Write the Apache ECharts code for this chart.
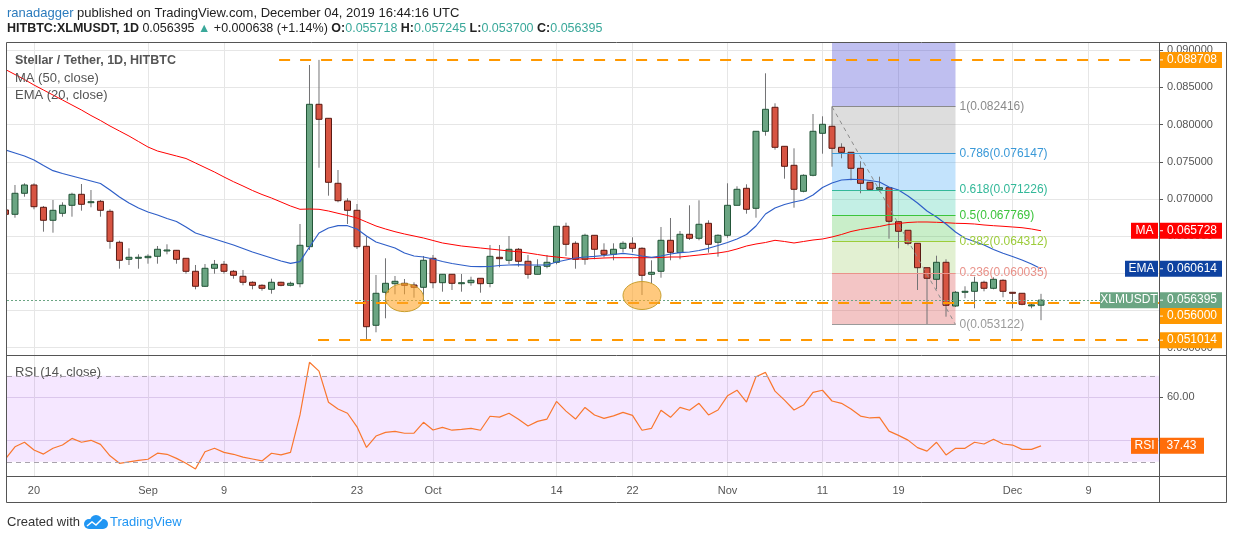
<!DOCTYPE html>
<html>
<head>
<meta charset="utf-8">
<title>XLMUSDT 1D</title>
<script src="https://cdn.jsdelivr.net/npm/echarts@6/dist/echarts.min.js"></script>
<style>
  html, body { margin: 0; padding: 0; background: #fff; }
  #chart { width: 1234px; height: 540px; }
</style>
</head>
<body>
<div id="chart"></div>
<script>
// x value = day index, day 0 = 2019-08-17
const opens = [
  0.068521, 0.067942, 0.070767, 0.071883, 0.068884, 0.067136, 0.068077, 0.069153, 0.070632, 0.069570,
  0.069691, 0.068346, 0.064177, 0.061891, 0.062119, 0.062106, 0.062294, 0.063101, 0.063101, 0.062025,
  0.060277, 0.058260, 0.060681, 0.061218, 0.060277, 0.059605, 0.058798, 0.058394, 0.057856, 0.058798,
  0.058394, 0.058610, 0.063585, 0.082735, 0.080853, 0.072111, 0.069731, 0.068480, 0.063639, 0.053015,
  0.057453, 0.058610, 0.058663, 0.058435, 0.058125, 0.062025, 0.058744, 0.059874, 0.058704, 0.058744,
  0.059336, 0.058636, 0.062160, 0.061756, 0.063236, 0.061622, 0.059874, 0.060949, 0.061487, 0.066329,
  0.064042, 0.061891, 0.065118, 0.063101, 0.062563, 0.063370, 0.064042, 0.063370, 0.059874, 0.060277,
  0.064446, 0.062805, 0.065253, 0.064715, 0.066732, 0.064177, 0.065118, 0.069153, 0.071439, 0.068749,
  0.079104, 0.082332, 0.077087, 0.074532, 0.071035, 0.073187, 0.078835, 0.079777, 0.076953, 0.076280,
  0.074129, 0.072246, 0.071304, 0.071520, 0.066947, 0.065791, 0.064042, 0.060761, 0.059201, 0.061487,
  0.055611, 0.057453, 0.057587, 0.058798, 0.057991, 0.059067, 0.057453, 0.057319, 0.055678, 0.055718
];
const closes = [
  0.067942, 0.070767, 0.071883, 0.068965, 0.067136, 0.068480, 0.069153, 0.070632, 0.069287, 0.069637,
  0.068480, 0.064311, 0.061756, 0.062160, 0.062160, 0.062294, 0.063236, 0.063142, 0.061891, 0.060277,
  0.058260, 0.060681, 0.061218, 0.060277, 0.059739, 0.058798, 0.058394, 0.057991, 0.058798, 0.058394,
  0.058663, 0.063774, 0.082735, 0.080718, 0.072246, 0.069771, 0.068480, 0.063585, 0.052827, 0.057319,
  0.058663, 0.058932, 0.058394, 0.058125, 0.061756, 0.058744, 0.059874, 0.058663, 0.058744, 0.059067,
  0.058610, 0.062294, 0.061972, 0.063236, 0.061622, 0.059874, 0.060949, 0.061487, 0.066329, 0.063908,
  0.061891, 0.065118, 0.063236, 0.062563, 0.063236, 0.064042, 0.063370, 0.059739, 0.060143, 0.064446,
  0.062832, 0.065253, 0.064715, 0.066598, 0.063908, 0.065118, 0.069153, 0.071304, 0.068615, 0.079104,
  0.082063, 0.076953, 0.074397, 0.071304, 0.073187, 0.079104, 0.080046, 0.076818, 0.076280, 0.074129,
  0.072111, 0.071304, 0.071520, 0.067001, 0.065656, 0.064042, 0.060761, 0.059336, 0.061487, 0.055705,
  0.057453, 0.057587, 0.058798, 0.057991, 0.059201, 0.057587, 0.057319, 0.055839, 0.055757, 0.056395
];
const lows = [
  0.067714, 0.067485, 0.070309, 0.068615, 0.065603, 0.065468, 0.067620, 0.067620, 0.068427, 0.068884,
  0.067620, 0.063316, 0.060627, 0.061124, 0.060627, 0.061299, 0.061299, 0.062563, 0.061299, 0.059954,
  0.057856, 0.058166, 0.059954, 0.059954, 0.059282, 0.058394, 0.057856, 0.057668, 0.057265, 0.058260,
  0.058260, 0.058125, 0.063142, 0.074209, 0.070444, 0.069556, 0.066638, 0.063276, 0.051014, 0.052074,
  0.053957, 0.057184, 0.057184, 0.056727, 0.056323, 0.057991, 0.057534, 0.057762, 0.057534, 0.058341,
  0.057399, 0.058125, 0.060815, 0.061259, 0.060896, 0.059282, 0.059874, 0.060681, 0.061218, 0.062335,
  0.060627, 0.061165, 0.061891, 0.062160, 0.061756, 0.062832, 0.062832, 0.057090, 0.058663, 0.059416,
  0.061756, 0.061891, 0.064486, 0.064446, 0.062778, 0.062241, 0.064796, 0.069153, 0.068023, 0.067485,
  0.078513, 0.076630, 0.072730, 0.068830, 0.070901, 0.073053, 0.076092, 0.074344, 0.075473, 0.072515,
  0.070767, 0.071170, 0.070982, 0.064661, 0.063370, 0.063774, 0.057762, 0.053122, 0.057856, 0.054172,
  0.055476, 0.056646, 0.055301, 0.057587, 0.057856, 0.056781, 0.055301, 0.055705, 0.055301, 0.053700
];
const highs = [
  0.068790, 0.071883, 0.072111, 0.072111, 0.069059, 0.069866, 0.069556, 0.070847, 0.072017, 0.071210,
  0.069866, 0.068615, 0.064392, 0.063370, 0.062563, 0.062563, 0.063679, 0.063908, 0.063142, 0.062025,
  0.061124, 0.061259, 0.061797, 0.061662, 0.060452, 0.060452, 0.058932, 0.058529, 0.059282, 0.058879,
  0.058879, 0.066638, 0.088020, 0.088708, 0.080893, 0.073900, 0.070094, 0.069328, 0.064930, 0.059780,
  0.062025, 0.059645, 0.059242, 0.058798, 0.062335, 0.062469, 0.059874, 0.059874, 0.059914, 0.059551,
  0.059336, 0.063814, 0.063814, 0.065024, 0.063410, 0.062469, 0.061891, 0.062469, 0.066329, 0.066813,
  0.064311, 0.065334, 0.065118, 0.064042, 0.064042, 0.064311, 0.064849, 0.063505, 0.061756, 0.066235,
  0.067445, 0.065697, 0.069153, 0.069825, 0.067136, 0.065253, 0.072111, 0.071708, 0.071977, 0.079104,
  0.086904, 0.082870, 0.077087, 0.076818, 0.073322, 0.081431, 0.081121, 0.082416, 0.077491, 0.076280,
  0.075070, 0.072246, 0.072999, 0.071520, 0.066947, 0.065791, 0.064042, 0.060761, 0.062375, 0.061891,
  0.057628, 0.058260, 0.059551, 0.059013, 0.059470, 0.059201, 0.057453, 0.057319, 0.055974, 0.057245
];
const ma50 = [
  0.087415, 0.086743, 0.086070, 0.085331, 0.084658, 0.083986, 0.083314, 0.082641, 0.081969, 0.081229,
  0.080557, 0.079817, 0.079145, 0.078472, 0.077733, 0.076993, 0.076455, 0.076119, 0.075783, 0.075446,
  0.074841, 0.074236, 0.073631, 0.072959, 0.072327, 0.071748, 0.071143, 0.070605, 0.070134, 0.069597,
  0.069059, 0.068615, 0.068655, 0.068615, 0.068386, 0.068077, 0.067781, 0.067445, 0.066907, 0.066369,
  0.065966, 0.065603, 0.065293, 0.065024, 0.064755, 0.064419, 0.064083, 0.063881, 0.063679, 0.063545,
  0.063410, 0.063276, 0.063142, 0.063007, 0.062913, 0.062738, 0.062536, 0.062335, 0.062200, 0.062066,
  0.061931, 0.061931, 0.061998, 0.062066, 0.062106, 0.062106, 0.062106, 0.062106, 0.062106, 0.062133,
  0.062200, 0.062200, 0.062335, 0.062469, 0.062604, 0.062738, 0.062940, 0.063276, 0.063679, 0.063948,
  0.064150, 0.064446, 0.064285, 0.064083, 0.064285, 0.064486, 0.064621, 0.064890, 0.065226, 0.065629,
  0.065898, 0.066100, 0.066302, 0.066571, 0.066705, 0.066840, 0.066907, 0.066907, 0.066867, 0.066813,
  0.066732, 0.066705, 0.066638, 0.066504, 0.066409, 0.066329, 0.066235, 0.066140, 0.065966, 0.065728
];
const ema20 = [
  0.076590, 0.076186, 0.075783, 0.075245, 0.074505, 0.073806, 0.073429, 0.073093, 0.072757, 0.072421,
  0.072084, 0.071210, 0.070269, 0.069462, 0.068790, 0.068252, 0.067848, 0.067378, 0.066974, 0.066235,
  0.065428, 0.065024, 0.064621, 0.064217, 0.063814, 0.063343, 0.062873, 0.062469, 0.062066, 0.061662,
  0.061353, 0.061568, 0.063545, 0.065428, 0.066100, 0.066409, 0.066409, 0.065966, 0.065024, 0.064217,
  0.063814, 0.063410, 0.062738, 0.062335, 0.062200, 0.061931, 0.061595, 0.061326, 0.061124, 0.060923,
  0.060896, 0.060923, 0.061057, 0.061124, 0.061165, 0.061124, 0.061124, 0.061124, 0.061528, 0.061797,
  0.062066, 0.062200, 0.062294, 0.062402, 0.062536, 0.062698, 0.062536, 0.062335, 0.062160, 0.062335,
  0.062604, 0.062778, 0.062873, 0.063074, 0.063370, 0.063747, 0.064150, 0.064621, 0.065226, 0.066369,
  0.067983, 0.068790, 0.069260, 0.069597, 0.069866, 0.070538, 0.071547, 0.072152, 0.072555, 0.072649,
  0.072622, 0.072488, 0.072286, 0.071614, 0.071210, 0.070403, 0.069462, 0.068386, 0.067579, 0.066638,
  0.065562, 0.064715, 0.064285, 0.063814, 0.063209, 0.062698, 0.062267, 0.061797, 0.061259, 0.060614
];
const rsi14 = [
  31.3, 37.0, 39.1, 35.5, 33.6, 36.3, 37.8, 40.9, 39.1, 40.0,
  38.1, 32.8, 29.3, 30.0, 30.7, 31.2, 34.0, 33.5, 31.6, 29.3,
  26.7, 34.7, 36.3, 34.4, 33.5, 32.2, 31.3, 30.4, 34.0, 33.2,
  34.4, 51.8, 76.3, 72.2, 57.7, 54.6, 52.6, 46.3, 36.7, 42.0,
  43.7, 44.2, 43.3, 43.3, 48.4, 44.8, 46.0, 44.7, 45.1, 45.6,
  44.7, 51.2, 50.8, 52.6, 49.8, 46.7, 48.8, 49.9, 58.1, 53.6,
  49.9, 55.3, 51.8, 50.2, 51.4, 53.0, 51.6, 44.7, 45.6, 54.0,
  50.7, 55.3, 54.0, 57.2, 51.8, 54.1, 60.7, 63.3, 57.8, 69.6,
  71.6, 62.9, 58.7, 54.1, 56.4, 62.3, 63.3, 58.3, 57.2, 54.6,
  51.3, 50.4, 50.7, 44.3, 42.3, 40.1, 36.6, 35.0, 39.1, 33.2,
  36.3, 36.3, 39.1, 38.3, 40.5, 38.3, 37.8, 35.8, 35.8, 37.43
];

const tickDays = [3, 15, 23, 37, 45, 58, 66, 76, 86, 94, 106, 114];
const tickLabels = ['20', 'Sep', '9', '23', 'Oct', '14', '22', 'Nov', '11', '19', 'Dec', '9'];
const priceTicks = [0.05, 0.055, 0.06, 0.065, 0.07, 0.075, 0.08, 0.085, 0.09];

// horizontal support / resistance lines drawn on the chart
const levels = [0.088708, 0.056, 0.051014];
const levelStart = [28.8, 36.8, 32.9];

// fibonacci retracement from the Nov 12 high to the Nov 22 low
const fibRatios = ['1', '0.786', '0.618', '0.5', '0.382', '0.236', '0'];
const fibPrices = [0.082416, 0.076147, 0.071226, 0.067769, 0.064312, 0.060035, 0.053122];
const fibFrom = 87, fibTo = 100;

// highlighted support touches
const circles = [[42, 0.05673], [67, 0.05702]];

const xMin = 0.16, xMax = 121.42;
const yMin = 0.04902, yMax = 0.09098;
const FONT = '"Liberation Sans", Arial, sans-serif';
const last = closes.length - 1;

const fibLineColors = ['#8a8a8a', '#3a99d8', '#33b899', '#3cc43c', '#9ccc3a', '#e9928a', '#9a9a9a'];
const fibFill = [
  'rgba(60,60,210,0.33)', 'rgba(128,128,128,0.27)', 'rgba(33,150,243,0.27)', 'rgba(38,198,160,0.28)',
  'rgba(76,200,76,0.3)', 'rgba(139,195,74,0.25)', 'rgba(220,90,90,0.35)'
];

const candleData = opens.map((o, i) => [i, o, closes[i], lows[i], highs[i]]);

function renderCandle(params, api) {
  const x = api.value(0);
  const o = api.coord([x, api.value(1)]);
  const c = api.coord([x, api.value(2)]);
  const l = api.coord([x, api.value(3)]);
  const h = api.coord([x, api.value(4)]);
  const up = api.value(2) >= api.value(1);
  const top = Math.min(o[1], c[1]);
  const bot = Math.max(o[1], c[1]);
  return {
    type: 'group',
    children: [
      { type: 'line', shape: { x1: h[0], y1: h[1], x2: l[0], y2: l[1] },
        style: { stroke: '#737375', lineWidth: 1 } },
      { type: 'rect', shape: { x: o[0] - 3, y: top, width: 6, height: Math.max(bot - top, 1) },
        style: { fill: up ? '#6ba583' : '#d75442', stroke: up ? '#225437' : '#5b1a13', lineWidth: 1 } }
    ]
  };
}

const fibAreas = [[{ coord: [fibFrom, fibPrices[0]] }, { coord: [fibTo, yMax] }]];
for (let i = 0; i < fibPrices.length - 1; i++) {
  fibAreas.push([{ coord: [fibFrom, fibPrices[i]] }, { coord: [fibTo, fibPrices[i + 1]] }]);
}
const fibAreaData = fibAreas.map((a, i) => {
  a[0].itemStyle = { color: fibFill[i] };
  return a;
});
const fibLines = fibPrices.map((p, i) => [
  { coord: [fibFrom, p], lineStyle: { color: fibLineColors[i], width: 1, type: 'solid' },
    label: { show: true, position: 'end', distance: 4, color: fibLineColors[i],
      formatter: fibRatios[i] + '(' + p.toFixed(6) + ')', fontSize: 12, fontFamily: FONT } },
  { coord: [fibTo, p] }
]);
fibLines.push([
  { coord: [fibFrom, fibPrices[0]], lineStyle: { color: '#8c8c8c', width: 1, type: [4, 4] }, label: { show: false } },
  { coord: [fibTo, fibPrices[fibPrices.length - 1]] }
]);

const levelLines = levels.map((v, i) => [
  { coord: [levelStart[i], v] }, { coord: [xMax, v] }
]);
levelLines.push([
  { coord: [xMin, closes[last]], lineStyle: { color: '#6ba583', width: 1, type: [2, 2] } },
  { coord: [xMax, closes[last]] }
]);

const chart = echarts.init(document.getElementById('chart'));
chart.setOption({
  animation: false,
  backgroundColor: '#ffffff',
  grid: [
    { left: 7, top: 43, width: 1152, height: 312 },
    { left: 7, top: 355, width: 1152, height: 121 }
  ],
  xAxis: [
    { type: 'value', gridIndex: 0, min: xMin, max: xMax,
      axisLine: { show: false }, axisLabel: { show: false },
      axisTick: { show: false, customValues: tickDays },
      splitLine: { show: true, lineStyle: { color: '#e6e6e6' } } },
    { type: 'value', gridIndex: 1, min: xMin, max: xMax,
      axisLine: { show: false },
      axisTick: { show: false, customValues: tickDays },
      axisLabel: { customValues: tickDays, color: '#555', fontSize: 11, fontFamily: FONT, margin: 9,
        formatter: v => tickLabels[tickDays.indexOf(Math.round(v))] },
      splitLine: { show: true, lineStyle: { color: '#e6e6e6' } } }
  ],
  yAxis: [
    { type: 'value', gridIndex: 0, position: 'right', min: yMin, max: yMax,
      axisLine: { show: false },
      axisTick: { show: true, length: 4, customValues: priceTicks, lineStyle: { color: '#555' } },
      axisLabel: { customValues: priceTicks, color: '#555', fontSize: 11, fontFamily: FONT, margin: 8,
        formatter: v => v.toFixed(6) },
      splitLine: { show: true, lineStyle: { color: '#e6e6e6' } } },
    { type: 'value', gridIndex: 1, position: 'right', min: 23.4, max: 79.7,
      axisLine: { show: false },
      axisTick: { show: true, length: 4, customValues: [40, 60], lineStyle: { color: '#555' } },
      axisLabel: { customValues: [60], color: '#555', fontSize: 11, fontFamily: FONT, margin: 8,
        formatter: v => v.toFixed(2) },
      splitLine: { show: true, lineStyle: { color: '#e3dcea' } } }
  ],
  series: [
    { name: 'fib', type: 'line', xAxisIndex: 0, yAxisIndex: 0, data: [], z: 1, silent: true,
      markArea: { silent: true, data: fibAreaData },
      markLine: { silent: true, symbol: 'none', data: fibLines } },
    { name: 'levels', type: 'line', xAxisIndex: 0, yAxisIndex: 0, data: [], z: 2, silent: true,
      markLine: { silent: true, symbol: 'none', label: { show: false },
        lineStyle: { color: '#ff9800', width: 2, type: [11, 10] }, data: levelLines } },
    { name: 'XLMUSDT', type: 'custom', xAxisIndex: 0, yAxisIndex: 0, z: 3, clip: true,
      renderItem: renderCandle, encode: { x: 0, y: [1, 2, 3, 4] }, data: candleData },
    { name: 'MA', type: 'line', xAxisIndex: 0, yAxisIndex: 0, z: 4, symbol: 'none', silent: true,
      lineStyle: { color: '#ff0000', width: 1 }, data: ma50.map((v, i) => [i, v]) },
    { name: 'EMA', type: 'line', xAxisIndex: 0, yAxisIndex: 0, z: 4, symbol: 'none', silent: true,
      lineStyle: { color: '#2f5fc8', width: 1.2 }, data: ema20.map((v, i) => [i, v]) },
    { name: 'RSI', type: 'line', xAxisIndex: 1, yAxisIndex: 1, z: 4, symbol: 'none', silent: true,
      lineStyle: { color: '#f9772e', width: 1.2 }, data: rsi14.map((v, i) => [i, v]),
      markArea: { silent: true, itemStyle: { color: 'rgba(153,21,255,0.1)' },
        data: [[{ coord: [xMin, 30] }, { coord: [xMax, 70] }]] },
      markLine: { silent: true, symbol: 'none', label: { show: false },
        lineStyle: { color: '#a9a3ad', width: 1, type: [5, 4] },
        data: [[{ coord: [xMin, 70] }, { coord: [xMax, 70] }], [{ coord: [xMin, 30] }, { coord: [xMax, 30] }]] } }
  ]
});

// overlays placed through the chart's own scales
const py = v => chart.convertToPixel({ yAxisIndex: 0 }, v);
const ry = v => chart.convertToPixel({ yAxisIndex: 1 }, v);
const g = [];

function tag(y, color, text, name, nameW) {
  g.push({ type: 'rect', z: 200, shape: { x: 1159, y: y - 8, width: 63, height: 16 }, style: { fill: color } });
  g.push({ type: 'line', z: 201, shape: { x1: 1159, y1: y, x2: 1163, y2: y }, style: { stroke: '#fff', lineWidth: 1 } });
  g.push({ type: 'text', z: 201, x: 1192, y: y,
    style: { text: text, fill: '#fff', font: '12px ' + FONT, align: 'center', verticalAlign: 'middle' } });
  if (name) {
    g.push({ type: 'rect', z: 200, shape: { x: 1158 - nameW, y: y - 8, width: nameW, height: 16 }, style: { fill: color } });
    g.push({ type: 'text', z: 201, x: 1158 - nameW / 2, y: y,
      style: { text: name, fill: '#fff', font: '12px ' + FONT, align: 'center', verticalAlign: 'middle' } });
  }
}

circles.forEach(c => {
  const p = chart.convertToPixel({ gridIndex: 0 }, c);
  g.push({ type: 'ellipse', z: 150, shape: { cx: p[0], cy: p[1], rx: 19, ry: 14 },
    style: { fill: 'rgba(255,165,40,0.6)', stroke: '#c9a030', lineWidth: 1 } });
});

tag(py(levels[0]), '#ff9800', levels[0].toFixed(6));
tag(py(ma50[last]), '#ff0000', ma50[last].toFixed(6), 'MA', 27);
tag(py(ema20[last]), '#0e42a0', ema20[last].toFixed(6), 'EMA', 33);
tag(py(closes[last]), '#6ba583', closes[last].toFixed(6), 'XLMUSDT', 58);
tag(py(levels[1]) + 13, '#ff9800', levels[1].toFixed(6));
tag(py(levels[2]), '#ff9800', levels[2].toFixed(6));

const rsiY = ry(rsi14[last]);
g.push({ type: 'rect', z: 200, shape: { x: 1159, y: rsiY - 8, width: 45, height: 16 }, style: { fill: '#ff6d0a' } });
g.push({ type: 'text', z: 201, x: 1181.5, y: rsiY,
  style: { text: rsi14[last].toFixed(2), fill: '#fff', font: '12px ' + FONT, align: 'center', verticalAlign: 'middle' } });
g.push({ type: 'rect', z: 200, shape: { x: 1131, y: rsiY - 8, width: 27, height: 16 }, style: { fill: '#ff6d0a' } });
g.push({ type: 'text', z: 201, x: 1144.5, y: rsiY,
  style: { text: 'RSI', fill: '#fff', font: '12px ' + FONT, align: 'center', verticalAlign: 'middle' } });

// frame
const frame = '#555555';
g.push({ type: 'rect', z: 300, shape: { x: 6.5, y: 42.5, width: 1220, height: 460 }, style: { fill: null, stroke: frame, lineWidth: 1 } });
g.push({ type: 'line', z: 300, shape: { x1: 6.5, y1: 355.5, x2: 1226.5, y2: 355.5 }, style: { stroke: frame, lineWidth: 1 } });
g.push({ type: 'line', z: 300, shape: { x1: 6.5, y1: 476.5, x2: 1226.5, y2: 476.5 }, style: { stroke: frame, lineWidth: 1 } });
g.push({ type: 'line', z: 300, shape: { x1: 1159.5, y1: 42.5, x2: 1159.5, y2: 502.5 }, style: { stroke: frame, lineWidth: 1 } });

// header
g.push({ type: 'text', z: 300, x: 7, y: 13, style: {
  text: '{a|ranadagger} published on TradingView.com, December 04, 2019 16:44:16 UTC',
  font: '13px ' + FONT, fill: '#222', verticalAlign: 'middle',
  rich: { a: { fill: '#2b7bbd', fontSize: 13, fontFamily: FONT } } } });
g.push({ type: 'text', z: 300, x: 7, y: 29, style: {
  text: '{b|HITBTC:XLMUSDT, 1D} 0.056395 {t|▲} +0.000638 (+1.14%) {b|O:}{t|0.055718} {b|H:}{t|0.057245} {b|L:}{t|0.053700} {b|C:}{t|0.056395}',
  font: '12.5px ' + FONT, fill: '#222', verticalAlign: 'middle',
  rich: {
    b: { fontWeight: 'bold', fontSize: 12.5, fontFamily: FONT, fill: '#222' },
    t: { fill: '#3aa89a', fontSize: 12.5, fontFamily: FONT }
  } } });

// pane legends
const legendStyle = (t, y, w, s) => ({ type: 'text', z: 300, x: 15, y: y,
  style: { text: t, font: (w || 'normal') + ' ' + (s || 13) + 'px ' + FONT, fill: '#555', verticalAlign: 'middle' } });
g.push(legendStyle('Stellar / Tether, 1D, HITBTC', 61, 'bold', 12.5));
g.push(legendStyle('MA (50, close)', 78));
g.push(legendStyle('EMA (20, close)', 95));
g.push(legendStyle('RSI (14, close)', 372));

// footer
g.push({ type: 'text', z: 300, x: 7, y: 522,
  style: { text: 'Created with', font: '13px ' + FONT, fill: '#333', verticalAlign: 'middle' } });
g.push({ type: 'group', z: 300, x: 83, y: 515, children: [
  { type: 'circle', shape: { cx: 6, cy: 9, r: 5 }, style: { fill: '#2196f3' } },
  { type: 'circle', shape: { cx: 13, cy: 6, r: 6 }, style: { fill: '#2196f3' } },
  { type: 'circle', shape: { cx: 20, cy: 9, r: 5 }, style: { fill: '#2196f3' } },
  { type: 'rect', shape: { x: 6, y: 9, width: 14, height: 5 }, style: { fill: '#2196f3' } },
  { type: 'polyline', shape: { points: [[4, 11], [9, 7], [13, 10], [19, 4]] }, style: { stroke: '#fff', lineWidth: 1.5, fill: null } }
] });
g.push({ type: 'text', z: 300, x: 110, y: 522,
  style: { text: 'TradingView', font: '13px ' + FONT, fill: '#2196f3', verticalAlign: 'middle' } });

chart.setOption({ graphic: g });
</script>
</body>
</html>
